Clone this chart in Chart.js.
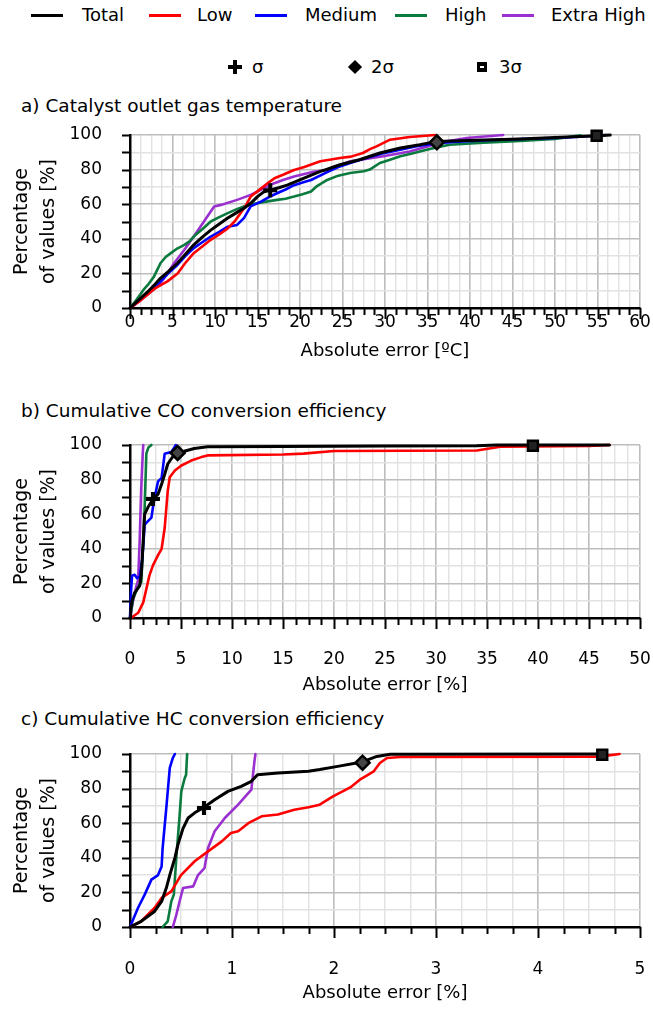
<!DOCTYPE html>
<html><head><meta charset="utf-8">
<script src="https://cdn.jsdelivr.net/npm/chart.js@4.4.1/dist/chart.umd.min.js"></script>
<style>
html,body{margin:0;padding:0;background:#fff}
body{width:653px;height:1012px;position:relative;overflow:hidden;font-family:"DejaVu Sans",sans-serif;color:#000}
.t{position:absolute;white-space:nowrap;font-size:18px;line-height:24px;height:24px}
.ln{position:absolute;height:3px;width:32px}
canvas{position:absolute;left:0}
.mk{position:absolute;background:#000}
</style></head>
<body>
<div id="legend"></div>
<div id="titles"></div>
<canvas id="cA" width="653" height="250" style="top:120px"></canvas>
<canvas id="cB" width="653" height="270" style="top:430px"></canvas>
<canvas id="cC" width="653" height="272" style="top:740px"></canvas>
<script>
// ---------- labels ----------
const seriesNames = ['Total','Low','Medium','High','Extra High'];
const markerNames = ['σ','2σ','3σ'];
const panelTitles = ['a) Catalyst outlet gas temperature','b) Cumulative CO conversion efficiency','c) Cumulative HC conversion efficiency'];
const xTitles = ['Absolute error [ºC]','Absolute error [%]','Absolute error [%]'];
const yTitle = ['Percentage','of values [%]'];

// ---------- axis ranges ----------
const xMaxes = [60, 50, 5];
const xSteps = [1.25, 1.25, 0.25];
const xMajors = [5, 5, 1];
const yMax = 100, yStep = 10, yMajor = 20;

// ---------- panel a: outlet gas temperature [x = error ºC, y = % of values] ----------
const aTotal = [[0,0],[1,4.5],[2,9],[3,14],[3.6,17.3],[4.5,21],[5.6,26],[6.5,31],[7.5,36.5],[8.5,41],[9.5,45],[10.5,48.5],[11.5,52],[12.5,55],[13.4,57.7],[14.2,60.5],[15,64.4],[15.7,67],[16.5,68.3],[17.5,69.5],[18.5,71],[19.7,73.5],[20.9,76],[22.4,79],[23.2,80.2],[24.7,82.8],[27,85.7],[29.4,89.6],[31.8,92.5],[34.1,94.4],[36.1,96.3],[39.6,96.8],[45.9,97.7],[50,98.5],[55,99.5],[56.5,100]];
const aLow = [[0,0],[1,3.5],[2,7.5],[3,11.5],[4.4,15.4],[5.6,20],[6.5,26],[7.5,31.7],[8.5,35.5],[9.5,39.4],[10.5,42.5],[11.5,46],[12.3,50],[13,54.8],[13.6,59],[14.2,64.4],[15.4,69],[16.3,72.5],[17,75],[18,77],[19.3,79.8],[20.5,81.5],[22.4,84.8],[24.7,86.7],[26,87.5],[27.4,89.6],[28.3,92],[29,93.4],[30.6,97.3],[32.9,98.8],[35.9,100]];
const aMedium = [[0,0],[1,4],[2,8.5],[3,12.5],[3.6,15.4],[4.5,20],[5.6,25],[6.5,30],[7.5,34.6],[8.5,38],[9.5,41.3],[10.5,44],[11.5,47],[12.6,48],[13.4,52],[14.2,58.7],[15.4,61.5],[16.3,64],[17.3,66.3],[18.3,68.5],[19.3,71],[20.3,72.5],[21.3,74],[23.2,78.5],[24.5,81.5],[26,84],[27.8,86.7],[29.8,89.5],[31.8,91.5],[33.7,93.5],[35.7,95],[38,96],[42,97],[46,97.7],[50,98.3],[53,99],[56,100]];
const aHigh = [[0,0],[0.8,5],[1.6,10.6],[2.2,14],[2.8,18],[3.2,22],[3.6,26],[4.2,29.5],[4.8,31.7],[5.6,34.5],[6.4,36.5],[7,38.5],[7.5,41.3],[8.5,45.5],[9.5,50],[10.5,52.5],[11.5,54.8],[12.5,57],[13.4,58.7],[14.2,60],[15,60.6],[16,61.5],[17.3,62.5],[18.3,63.2],[19.3,64.4],[20.3,65.8],[21.3,67.3],[22,70.5],[23.2,74],[24.5,76.5],[25.9,78],[27.5,79],[28.2,80],[29.4,83.8],[30.5,85.5],[31.8,87.7],[33.3,89.5],[34.9,91.5],[36.2,93],[37.6,94.4],[41.6,95.6],[45.9,96.5],[50,97.7],[53,99.8]];
const aExtraHigh = [[0,0],[1,3.5],[2,7.5],[3,11.5],[3.6,14.4],[4.4,20],[5.2,26],[6.4,33.7],[7.5,41.3],[8.7,50],[9.9,58.7],[10.7,59.6],[12.6,62.5],[14.2,65.4],[15.4,68.3],[16.9,72],[18,74],[19.3,76],[21.6,78.8],[23.2,79.8],[25.9,84.8],[27.5,86],[29.8,87.7],[32.9,90.5],[35.7,94.4],[37.5,96.5],[39.6,98.3],[43.9,100]];
const aSigma = [[16.5,68],[36.1,95.8],[54.9,99.6]];

// ---------- panel b: CO conversion efficiency ----------
const bTotal = [[0,0],[0.07,5],[0.2,10],[0.46,14.7],[0.95,18.6],[1.1,25],[1.2,34],[1.3,45],[1.44,60],[1.76,64],[2.25,68.6],[2.75,71.6],[3.1,77.5],[3.4,83],[3.7,89],[4.1,92.5],[4.5,95],[5.4,96.5],[6.3,98],[7.6,99],[15,99.2],[25,99.4],[34,99.5],[36,100],[47,100]];
const bLow = [[0.1,0],[0.8,3],[1.3,9],[1.6,16.7],[1.9,24.5],[2.25,30.4],[2.75,36.3],[3.1,40],[3.4,52],[3.7,73.5],[3.9,81.4],[4.4,85.3],[5,88],[6,91],[7,93],[7.6,94],[15,94.5],[17,95],[20,96.5],[34,96.8],[36.3,99],[45,99.5],[47,100]];
const bMedium = [[0,0],[0.1,15],[0.2,24.5],[0.46,25],[0.7,23],[0.95,24],[1.2,34],[1.44,54],[1.76,56],[2.1,58],[2.25,64],[2.5,72],[2.75,79],[3.1,81],[3.4,95],[4.05,96],[4.5,100]];
const bHigh = [[0,0],[0.3,11],[0.8,18],[1.1,20.6],[1.3,45],[1.44,64],[1.55,85],[1.6,95],[1.8,98.5],[2.1,100]];
const bExtraHigh = [[0,0],[0.3,10],[0.6,18],[0.8,22],[0.95,45],[1.1,75],[1.25,95],[1.3,100]];
const bSigma = [[2.25,68.8],[4.67,95.4],[39.5,99.6]];

// ---------- panel c: HC conversion efficiency ----------
const cTotal = [[0,0],[0.11,3.3],[0.24,9],[0.31,14.8],[0.356,22.5],[0.39,30],[0.44,40],[0.47,47.6],[0.52,57],[0.57,63],[0.634,66],[0.716,68.8],[0.83,73.6],[0.96,78.4],[1.09,81.3],[1.19,84.2],[1.25,88],[1.45,89],[1.75,90],[1.86,91],[2.05,93],[2.22,94.8],[2.29,95.7],[2.42,98.6],[2.55,99.8],[4.65,100]];
const cLow = [[0,0],[0.11,3.3],[0.24,11],[0.31,16.8],[0.405,20.6],[0.5,30],[0.634,38],[0.765,43.7],[0.9,49.5],[0.99,54.3],[1.06,55.3],[1.16,60],[1.29,64],[1.45,65],[1.61,67.8],[1.75,69.2],[1.86,70.7],[1.99,75.5],[2.16,80.7],[2.25,85],[2.39,90],[2.45,94.8],[2.52,97.7],[2.65,98.3],[4.6,98.5],[4.8,100]];
const cMedium = [[0,0],[0.078,11],[0.144,18.7],[0.21,27.4],[0.275,30],[0.31,35],[0.32,45.7],[0.356,68.8],[0.39,92],[0.42,97.7],[0.44,100]];
const cHigh = [[0.32,0],[0.37,3.3],[0.405,14.8],[0.43,18.7],[0.454,40],[0.487,65],[0.503,78.4],[0.536,86],[0.55,88],[0.56,100]];
const cExtraHigh = [[0.42,0],[0.454,7],[0.487,15],[0.52,22.5],[0.62,23.5],[0.667,30],[0.73,34],[0.765,45.7],[0.83,55.3],[0.93,63],[1.06,70.7],[1.19,79.4],[1.22,95.8],[1.23,100]];
const cSigma = [[0.725,68.8],[2.28,95],[4.63,99.6]];

// ---------- styles ----------
const FONT = '"DejaVu Sans", sans-serif';
const seriesColors = ['#000000','#ff0000','#0000ff','#0b7a3e','#9b30d0'];

// ---------- HTML legend & titles ----------
(function(){
  const lg = document.getElementById('legend');
  const lineX = [31,149,255,395,502], textX = [82,197,305,445,551];
  seriesNames.forEach((n,i)=>{
    const l = document.createElement('div'); l.className='ln';
    l.style.left=lineX[i]+'px'; l.style.top='14px'; l.style.background=seriesColors[i]; lg.appendChild(l);
    const t = document.createElement('div'); t.className='t'; t.textContent=n;
    t.style.left=textX[i]+'px'; t.style.top='3px'; lg.appendChild(t);
  });
  const mx = [235,355,482], tx = [252,371,499];
  let e=document.createElement('div'); e.className='mk'; Object.assign(e.style,{left:(mx[0]-7)+'px',top:'65px',width:'14px',height:'4px'}); lg.appendChild(e);
  e=document.createElement('div'); e.className='mk'; Object.assign(e.style,{left:(mx[0]-2)+'px',top:'60px',width:'4px',height:'14px'}); lg.appendChild(e);
  e=document.createElement('div'); e.className='mk'; Object.assign(e.style,{left:(mx[1]-5)+'px',top:'62px',width:'10px',height:'10px',transform:'rotate(45deg)'}); lg.appendChild(e);
  e=document.createElement('div'); e.className='mk'; Object.assign(e.style,{left:(mx[2]-5)+'px',top:'62px',width:'10px',height:'10px'}); lg.appendChild(e);
  e=document.createElement('div'); Object.assign(e.style,{position:'absolute',background:'#fff',left:(mx[2]-2)+'px',top:'66px',width:'4px',height:'2px'}); lg.appendChild(e);
  markerNames.forEach((n,i)=>{
    const t=document.createElement('div'); t.className='t'; t.textContent=n;
    t.style.left=tx[i]+'px'; t.style.top='55px'; lg.appendChild(t);
  });
  const tt = document.getElementById('titles');
  const ty = [94, 399, 707];
  panelTitles.forEach((n,i)=>{
    const t=document.createElement('div'); t.className='t'; t.textContent=n;
    t.style.left='21px'; t.style.top=ty[i]+'px'; t.style.fontSize='18.5px'; tt.appendChild(t);
  });
})();

// ---------- chart helpers ----------
function isMajor(v, m){ const r = v/m; return Math.abs(r - Math.round(r)) < 1e-6; }
function pts(arr){ return arr.map(p => ({x:p[0], y:p[1]})); }

const tickMarks = {
  id:'tickMarks',
  afterDraw(chart, args, opts){
    const ctx = chart.ctx, xs = chart.scales.x, ys = chart.scales.y;
    ctx.save(); ctx.strokeStyle = '#000'; ctx.lineWidth = 2;
    xs.ticks.forEach(t => {
      const px = Math.round(xs.getPixelForValue(t.value)) + 0.5;
      const len = isMajor(t.value, opts.major) ? 11 : 7;
      ctx.beginPath(); ctx.moveTo(px, xs.top); ctx.lineTo(px, xs.top + len); ctx.stroke();
    });
    ys.ticks.forEach(t => {
      const py = Math.round(ys.getPixelForValue(t.value)) + 0.5;
      ctx.beginPath(); ctx.moveTo(ys.right - 8, py); ctx.lineTo(ys.right, py); ctx.stroke();
    });
    ctx.restore();
  }
};

function build(id, k, series, sigma, cfg){
  const datasets = [{
    label:'sigma', data: pts(sigma), showLine:false, clip:false,
    pointStyle:['cross','rectRot','rect'], pointRadius:[7,7,7], pointHoverRadius:[7,7,7],
    pointBorderWidth:[4,2.5,2.5], pointBorderColor:'#000',
    pointBackgroundColor:['#000','#444','#222']
  }];
  series.forEach((s,i) => datasets.push({
    label: seriesNames[i], data: pts(s), borderColor: seriesColors[i], backgroundColor: seriesColors[i],
    borderWidth: i === 0 ? 3 : 2.6, pointRadius:0, pointHoverRadius:0, tension:0, fill:false, clip:false,
    borderJoinStyle:'round', borderCapStyle:'round'
  }));
  new Chart(document.getElementById(id), {
    type:'line',
    data:{datasets},
    plugins:[tickMarks],
    options:{
      responsive:false, animation:false, devicePixelRatio:1,
      layout:{padding:{left:0, right:13, top:cfg.top, bottom:0}},
      plugins:{legend:{display:false}, tooltip:{enabled:false}, title:{display:false}, tickMarks:{major:xMajors[k]}},
      scales:{
        x:{
          type:'linear', min:0, max:xMaxes[k],
          ticks:{stepSize:xSteps[k], autoSkip:false, maxRotation:0, padding:cfg.labelPad, color:'#000',
                 font:{family:FONT, size:17},
                 callback:(v)=> isMajor(v, xMajors[k]) ? String(Math.round(v)) : ''},
          grid:{drawTicks:false, color:(c)=> isMajor(c.tick.value, xMajors[k]) ? '#bdbdbd' : '#e2e2e2',
                lineWidth:(c)=> isMajor(c.tick.value, xMajors[k]) ? 1.6 : 1.4},
          border:{color:'#000', width:2.5},
          title:{display:true, text:xTitles[k], color:'#000', font:{family:FONT, size:18}, padding:{top:0, bottom:cfg.titlePad}},
          afterFit:(s)=>{ s.height = cfg.xh; s.paddingLeft = 0; s.paddingRight = 0; s.paddingTop = 0; s.paddingBottom = 0; }
        },
        y:{
          min:0, max:yMax,
          ticks:{stepSize:yStep, autoSkip:false, padding:28, color:'#000', font:{family:FONT, size:17},
                 callback:(v)=> isMajor(v, yMajor) ? String(v) : ''},
          grid:{drawTicks:false, color:(c)=> isMajor(c.tick.value, yMajor) ? '#bdbdbd' : '#e2e2e2',
                lineWidth:(c)=> isMajor(c.tick.value, yMajor) ? 1.6 : 1.4},
          border:{color:'#000', width:2.5},
          title:{display:true, text:yTitle, color:'#000', font:{family:FONT, size:19, lineHeight:1.45}, padding:{top:8, bottom:0}},
          afterFit:(s)=>{ s.width = 130; s.paddingTop = 0; s.paddingBottom = 0; s.paddingLeft = 0; s.paddingRight = 0; }
        }
      }
    }
  });
}

build('cA', 0, [aTotal, aLow, aMedium, aHigh, aExtraHigh], aSigma, {top:15, xh:62, labelPad:4, titlePad:8});
build('cB', 1, [bTotal, bLow, bMedium, bHigh, bExtraHigh], bSigma, {top:15, xh:82, labelPad:31, titlePad:4});
build('cC', 2, [cTotal, cLow, cMedium, cHigh, cExtraHigh], cSigma, {top:14, xh:85, labelPad:32, titlePad:8});
</script>
</body></html>
